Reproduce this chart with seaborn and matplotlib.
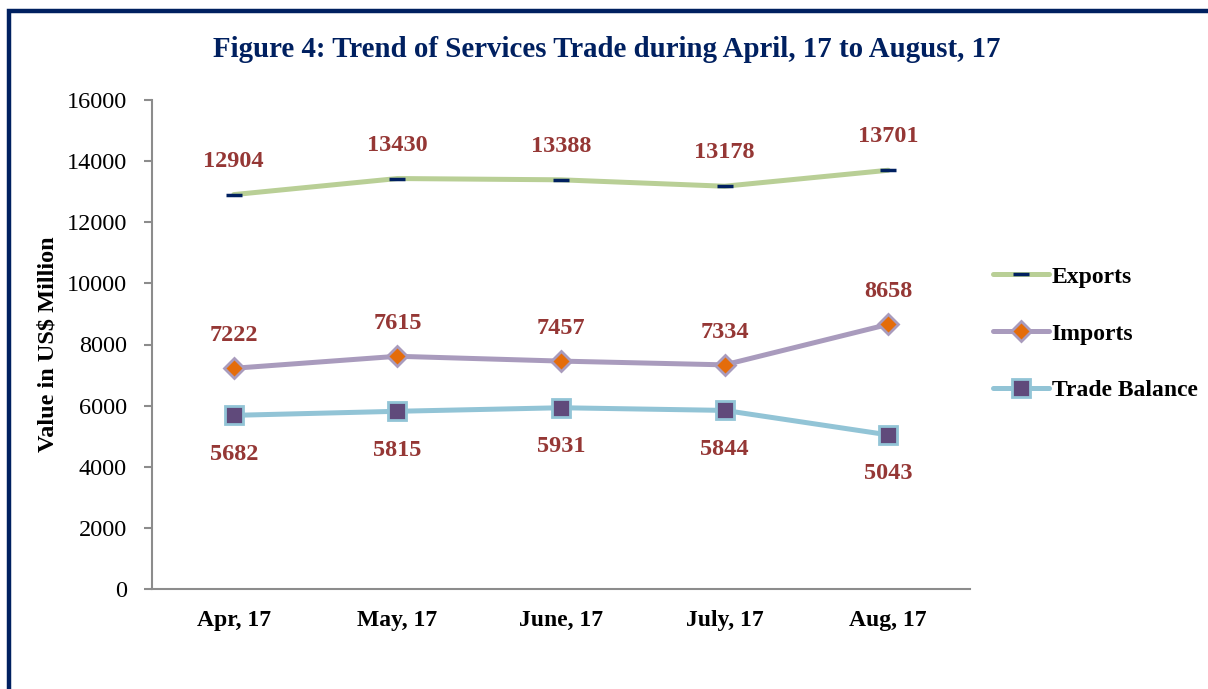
import matplotlib
matplotlib.use('Agg')
import matplotlib.pyplot as plt
import seaborn as sns
import pandas as pd
from matplotlib.patches import Rectangle
from matplotlib.ticker import FixedLocator

months = ['Apr, 17', 'May, 17', 'June, 17', 'July, 17', 'Aug, 17']
exports = [12904, 13430, 13388, 13178, 13701]
imports = [7222, 7615, 7457, 7334, 8658]
trade_balance = [5682, 5815, 5931, 5844, 5043]

sns.set_style('white')
plt.rcParams['font.family'] = ['Liberation Serif', 'DejaVu Serif']
plt.rcParams['text.color'] = 'black'
plt.rcParams['axes.labelcolor'] = 'black'
plt.rcParams['xtick.color'] = 'black'
plt.rcParams['ytick.color'] = 'black'

navy = '#002060'
label_red = '#953735'

fig = plt.figure(figsize=(12.08, 6.89), dpi=100)
ax = fig.add_axes([0.1258, 0.1451, 0.6772, 0.7098])

df = pd.DataFrame({'pos': range(len(months)), 'Exports': exports,
                   'Imports': imports, 'Trade Balance': trade_balance})

# each series: line colour, marker, marker face, marker edge, marker size, label offset
styles = {
    'Exports': ('#B9CF96', '_', navy, navy, 11, 24),
    'Imports': ('#A99BBD', 'D', '#E46C0A', '#A99BBD', 10, 23.5),
    'Trade Balance': ('#92C4D6', 's', '#604A7B', '#92C4D6', 13, -28),
}

for name, (col, mk, mfc, mec, ms, off) in styles.items():
    sns.lineplot(data=df, x='pos', y=name, ax=ax, color=col, linewidth=3.6,
                 marker=mk, markerfacecolor=mfc, markeredgecolor=mec,
                 markersize=ms, markeredgewidth=2 if mk != '_' else 2.5,
                 label=name, solid_capstyle='round')
    for i, v in enumerate(df[name]):
        ax.annotate(str(v), (i, v), xytext=(0, off), textcoords='offset points',
                    ha='center', va='center', fontsize=17.5, fontweight='bold',
                    color=label_red)

ax.set_xlim(-0.5, len(months) - 0.5)
ax.set_ylim(0, 16000)
ax.set_yticks(range(0, 16001, 2000))
ax.set_xticks(range(len(months)))
ax.set_xticklabels(months, fontsize=17, fontweight='bold')
ax.xaxis.set_minor_locator(FixedLocator([i - 0.5 for i in range(len(months) + 1)]))
ax.tick_params(axis='x', which='major', length=0, pad=15)
ax.tick_params(axis='x', which='minor', length=6, width=1.5, color='#8c8c8c', direction='out')
ax.tick_params(axis='y', labelsize=17.5, length=6, width=1.5, color='#8c8c8c',
               labelcolor='black', direction='out', left=True, pad=12)

ax.set_xlabel('')
ax.set_ylabel('Value in US$ Million', fontsize=17.5, fontweight='bold', labelpad=6)

for s in ['top', 'right']:
    ax.spines[s].set_visible(False)
for s in ['left', 'bottom']:
    ax.spines[s].set_color('#8c8c8c')
    ax.spines[s].set_linewidth(1.5)

leg = ax.legend(loc='center left', bbox_to_anchor=(1.016, 0.522), frameon=False,
                prop={'size': 17, 'weight': 'bold'}, handlelength=2.4,
                labelspacing=1.5, handletextpad=0.1, borderaxespad=0)
for t in leg.get_texts():
    t.set_color('black')

fig.text(0.502, 0.928, 'Figure 4: Trend of Services Trade during April, 17 to August, 17',
         ha='center', va='center', fontsize=20.8, fontweight='bold', color=navy)

# dark frame around the figure (cut off at the right and bottom)
fig.patches.append(Rectangle((9 / 1208, -0.1), 1.2, 1 - 11 / 689 + 0.1,
                             transform=fig.transFigure, fill=False,
                             edgecolor=navy, linewidth=3.2))

fig.savefig('out.png', dpi=100)
